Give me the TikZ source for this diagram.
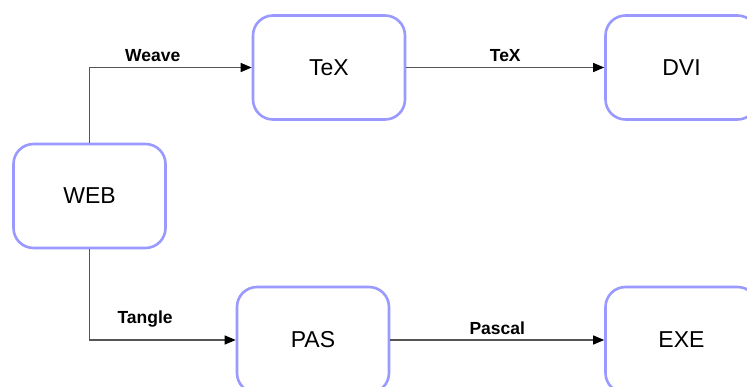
\documentclass[tikz,border=0pt]{standalone}
\usepackage{fontspec}
\setmainfont{Liberation Sans}
\usetikzlibrary{arrows.meta}
\definecolor{boxline}{HTML}{9999FF}
\definecolor{wire}{HTML}{555555}
\begin{document}
\begin{tikzpicture}[x=1pt,y=-1pt,
  box/.style={draw=boxline,line width=2.6pt,rounded corners=20pt,fill=white,
    minimum width=152pt,minimum height=104pt,inner sep=0pt,
    font=\fontsize{23}{27}\selectfont},
  flow/.style={draw=wire,line width=1.2pt,
    -{Triangle[length=11pt,width=9pt,fill=black,color=black]}},
  tag/.style={font=\bfseries\fontsize{17.5}{20}\selectfont,inner sep=0pt,anchor=south}]
  \clip (0,0) rectangle (747,387);
  \fill[white] (0,0) rectangle (747,387);
  % document files
  \node[box] (web) at (89.5,196) {WEB};
  \node[box] (tex) at (329,67.5) {TeX};
  \node[box] (dvi) at (681.5,67.5) {DVI};
  \node[box,minimum height=106pt] (pas) at (313,340) {PAS};
  \node[box,minimum height=106pt] (exe) at (681.5,340) {EXE};
  % processing steps
  \draw[flow] (web.north) |- node[tag,pos=0.695,yshift=5pt] {Weave} (tex.west);
  \draw[flow] (tex.east) -- node[tag,yshift=5pt] {TeX} (dvi.west);
  \draw[flow] (web.south) |- node[tag,pos=0.69,yshift=12.5pt] {Tangle} (pas.west);
  \draw[flow] (pas.east) -- node[tag,yshift=5pt] {Pascal} (exe.west);
\end{tikzpicture}
\end{document}
